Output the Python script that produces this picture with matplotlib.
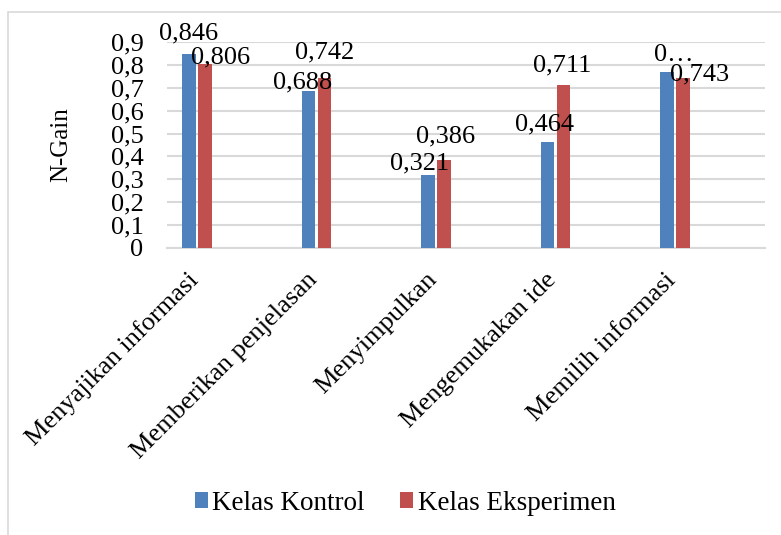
import numpy as np
import matplotlib
matplotlib.use('Agg')
import matplotlib.pyplot as plt
from matplotlib.patches import Rectangle
from matplotlib.transforms import ScaledTranslation

categories = ['Menyajikan informasi', 'Memberikan penjelasan', 'Menyimpulkan',
              'Mengemukakan ide', 'Memilih informasi']
kontrol = [0.846, 0.688, 0.321, 0.464, 0.770]
eksperimen = [0.806, 0.742, 0.386, 0.711, 0.743]
kontrol_labels = ['0,846', '0,688', '0,321', '0,464', '0\u2026']
eksperimen_labels = ['0,806', '0,742', '0,386', '0,711', '0,743']
yticks = [0, 0.1, 0.2, 0.3, 0.4, 0.5, 0.6, 0.7, 0.8, 0.9]

# label shifts (pixels) from the top of each bar, as in the original
kontrol_shift = [(0, 21), (-6, 8), (-8, 11), (-3, 17), (7, 17)]
eksperimen_shift = [(16, 6), (0, 26), (2, 23), (-1, 20), (17, 3)]

plt.rcParams['font.family'] = 'Liberation Serif'
blue, red = '#4F81BD', '#C0504D'
grid = '#D9D9D9'
fs = 19

fig = plt.figure(figsize=(7.81, 5.35), dpi=100)
fig.patches.append(Rectangle((8 / 781, -0.1), 1.2, 1 - 12 / 535 + 0.1,
                             transform=fig.transFigure, fill=False,
                             edgecolor=grid, linewidth=1.2))
ax = fig.add_axes([167 / 781, 1 - 248 / 535, (765 - 167) / 781, (248 - 42) / 535])

x = np.arange(len(categories))
w = 0.113
off = 0.067
b1 = ax.bar(x - off, kontrol, w, color=blue, label='Kelas Kontrol', zorder=3)
b2 = ax.bar(x + off, eksperimen, w, color=red, label='Kelas Eksperimen', zorder=3)

for xs, vals, labs, shifts in [(x - off, kontrol, kontrol_labels, kontrol_shift),
                               (x + off, eksperimen, eksperimen_labels, eksperimen_shift)]:
  for xi, v, lab, (dx, dy) in zip(xs, vals, labs, shifts):
    ax.annotate(lab, (xi, v), xytext=(dx, dy), textcoords='offset pixels',
                ha='center', va='center', fontsize=fs, zorder=5)

ax.set_xlim(-0.251, 4.753)
ax.set_ylim(0, 0.9)
ax.set_yticks(yticks)
ax.set_yticklabels([('%g' % t).replace('.', ',') for t in yticks], fontsize=fs)
ax.yaxis.grid(True, color=grid, linewidth=1.5, zorder=0)
ax.tick_params(axis='y', length=0, pad=17)
ax.set_xticks(x)
ax.set_xticklabels(categories, rotation=45, ha='right', va='top',
                   rotation_mode='anchor', fontsize=fs)
ax.tick_params(axis='x', length=0, pad=15)
shift = ScaledTranslation(-0.1, 0, fig.dpi_scale_trans)
for lbl in ax.get_xticklabels():
  lbl.set_transform(lbl.get_transform() + shift)
for s in ['top', 'right', 'left']:
  ax.spines[s].set_visible(False)
ax.spines['bottom'].set_color(grid)
ax.spines['bottom'].set_linewidth(1.5)
ax.set_ylabel('N-Gain', fontsize=18)
ax.yaxis.set_label_coords(-(167 - 72) / 598, 0.5)

fig.legend(handles=[b1, b2], loc='center', bbox_to_anchor=(405 / 781, 1 - 503 / 535),
           ncol=2, frameon=False, fontsize=19.5, handlelength=0.5, handleheight=0.5,
           handletextpad=0.15, columnspacing=1.3)

fig.savefig('out.png', dpi=100)
